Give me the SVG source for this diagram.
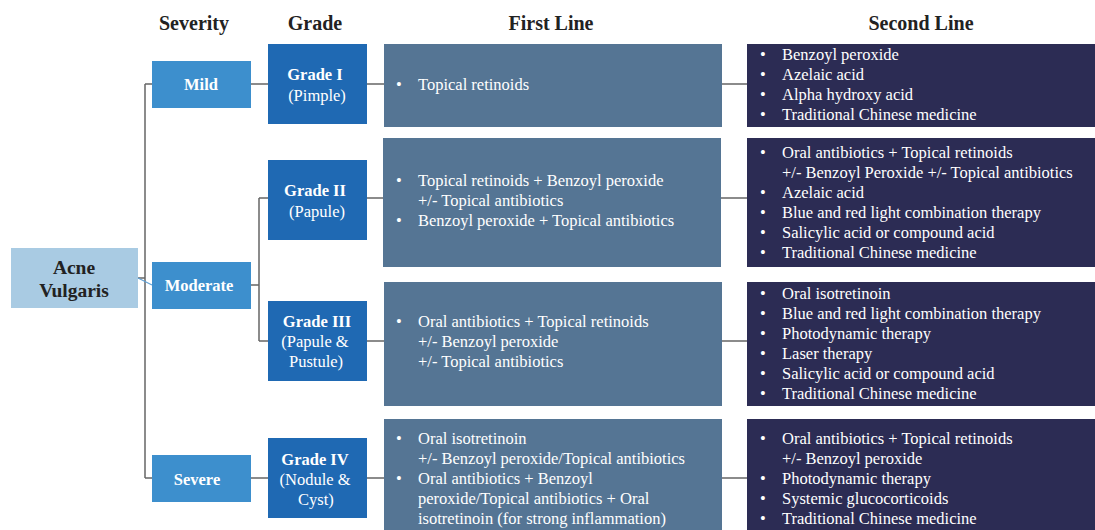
<svg xmlns="http://www.w3.org/2000/svg" width="1095" height="530" viewBox="0 0 1095 530" font-family="Liberation Serif, Times New Roman, serif">
<style>
svg text{font-family:'Liberation Serif','Times New Roman',serif;}
.hdr{font-size:20px;font-weight:bold;fill:#222;text-anchor:middle;}
.sev{fill:#3d8fcd;}
.grd{fill:#1f69b3;}
.fl{fill:#557594;}
.sl{fill:#2c2c54;}
.acne{fill:#a9cbe3;}
.wb{font-size:16.5px;font-weight:bold;fill:#fff;text-anchor:middle;}
.wt{font-size:16.5px;fill:#fff;text-anchor:middle;}
.li{font-size:16.5px;fill:#fff;}
.conn{stroke:#666;stroke-width:1.5;fill:none;}
</style>
<g id="headers">
<text class="hdr" x="194" y="30">Severity</text>
<text class="hdr" x="315" y="30">Grade</text>
<text class="hdr" x="551" y="30">First Line</text>
<text class="hdr" x="921" y="30">Second Line</text>
</g>
<g id="connectors">
<path class="conn" d="M145 84 V478 M145 84 H152 M145 478 H152 M138 278 H145"/>
<path d="M138 278 L152 285" stroke="#5fa0d6" stroke-width="1.2" fill="none"/>
<path class="conn" d="M251 84 H268 M367 84 H384 M722 84 H747"/>
<path class="conn" d="M251 285 H259 M259 198 V341 M259 198 H268 M259 341 H268"/>
<path class="conn" d="M367 198 H383 M721 198 H747 M367 341 H384 M722 341 H747"/>
<path class="conn" d="M251 478 H268 M367 478 H384 M722 478 H747"/>
</g>
<g id="acne">
<rect class="acne" x="11" y="248" width="127" height="60"/>
<text x="74" y="274" style="font-size:19.5px;font-weight:bold;fill:#222;text-anchor:middle">Acne</text>
<text x="74" y="297" style="font-size:19.5px;font-weight:bold;fill:#222;text-anchor:middle">Vulgaris</text>
</g>
<g id="mild">
<rect class="sev" x="152" y="61" width="99" height="47"/>
<text class="wb" x="201" y="90">Mild</text>
</g>
<g id="moderate">
<rect class="sev" x="152" y="262" width="99" height="47"/>
<text class="wb" x="199" y="291">Moderate</text>
</g>
<g id="severe">
<rect class="sev" x="152" y="455" width="99" height="47"/>
<text class="wb" x="197" y="485">Severe</text>
</g>
<g id="grade1">
<rect class="grd" x="268" y="44" width="99" height="80"/>
<text class="wb" x="315" y="80">Grade I</text>
<text class="wt" x="317" y="101">(Pimple)</text>
</g>
<g id="grade2">
<rect class="grd" x="268" y="160" width="99" height="80"/>
<text class="wb" x="315" y="196">Grade II</text>
<text class="wt" x="317" y="217">(Papule)</text>
</g>
<g id="grade3">
<rect class="grd" x="268" y="301" width="99" height="80"/>
<text class="wb" x="317" y="327">Grade III</text>
<text class="wt" x="315" y="347">(Papule &amp;</text>
<text class="wt" x="316" y="367">Pustule)</text>
</g>
<g id="grade4">
<rect class="grd" x="268" y="438" width="99" height="80"/>
<text class="wb" x="315" y="465">Grade IV</text>
<text class="wt" x="315" y="485">(Nodule &amp;</text>
<text class="wt" x="316" y="505">Cyst)</text>
</g>
<g id="first1">
<rect class="fl" x="384" y="44" width="338" height="83"/>
<text class="li" x="396" y="90">•</text>
<text class="li" x="418" y="90">Topical retinoids</text>
</g>
<g id="first2">
<rect class="fl" x="383" y="138" width="338" height="129"/>
<text class="li" x="396" y="186">•</text>
<text class="li" x="418" y="186">Topical retinoids + Benzoyl peroxide</text>
<text class="li" x="418" y="206">+/- Topical antibiotics</text>
<text class="li" x="396" y="226">•</text>
<text class="li" x="418" y="226">Benzoyl peroxide + Topical antibiotics</text>
</g>
<g id="first3">
<rect class="fl" x="384" y="282" width="338" height="124"/>
<text class="li" x="396" y="327">•</text>
<text class="li" x="418" y="327">Oral antibiotics + Topical retinoids</text>
<text class="li" x="418" y="347">+/- Benzoyl peroxide</text>
<text class="li" x="418" y="367">+/- Topical antibiotics</text>
</g>
<g id="first4">
<rect class="fl" x="384" y="419" width="338" height="111"/>
<text class="li" x="396" y="444">•</text>
<text class="li" x="418" y="444">Oral isotretinoin</text>
<text class="li" x="418" y="464">+/- Benzoyl peroxide/Topical antibiotics</text>
<text class="li" x="396" y="484">•</text>
<text class="li" x="418" y="484">Oral antibiotics + Benzoyl</text>
<text class="li" x="418" y="504">peroxide/Topical antibiotics + Oral</text>
<text class="li" x="418" y="524">isotretinoin (for strong inflammation)</text>
</g>
<g id="second1">
<rect class="sl" x="747" y="44" width="348" height="83"/>
<text class="li" x="760" y="60">•</text><text class="li" x="782" y="60">Benzoyl peroxide</text>
<text class="li" x="760" y="80">•</text><text class="li" x="782" y="80">Azelaic acid</text>
<text class="li" x="760" y="100">•</text><text class="li" x="782" y="100">Alpha hydroxy acid</text>
<text class="li" x="760" y="120">•</text><text class="li" x="782" y="120">Traditional Chinese medicine</text>
</g>
<g id="second2">
<rect class="sl" x="747" y="138" width="348" height="129"/>
<text class="li" x="760" y="158">•</text><text class="li" x="782" y="158">Oral antibiotics + Topical retinoids</text>
<text class="li" x="782" y="178">+/- Benzoyl Peroxide +/- Topical antibiotics</text>
<text class="li" x="760" y="198">•</text><text class="li" x="782" y="198">Azelaic acid</text>
<text class="li" x="760" y="218">•</text><text class="li" x="782" y="218">Blue and red light combination therapy</text>
<text class="li" x="760" y="238">•</text><text class="li" x="782" y="238">Salicylic acid or compound acid</text>
<text class="li" x="760" y="258">•</text><text class="li" x="782" y="258">Traditional Chinese medicine</text>
</g>
<g id="second3">
<rect class="sl" x="747" y="282" width="348" height="124"/>
<text class="li" x="760" y="299">•</text><text class="li" x="782" y="299">Oral isotretinoin</text>
<text class="li" x="760" y="319">•</text><text class="li" x="782" y="319">Blue and red light combination therapy</text>
<text class="li" x="760" y="339">•</text><text class="li" x="782" y="339">Photodynamic therapy</text>
<text class="li" x="760" y="359">•</text><text class="li" x="782" y="359">Laser therapy</text>
<text class="li" x="760" y="379">•</text><text class="li" x="782" y="379">Salicylic acid or compound acid</text>
<text class="li" x="760" y="399">•</text><text class="li" x="782" y="399">Traditional Chinese medicine</text>
</g>
<g id="second4">
<rect class="sl" x="747" y="419" width="348" height="111"/>
<text class="li" x="760" y="444">•</text><text class="li" x="782" y="444">Oral antibiotics + Topical retinoids</text>
<text class="li" x="782" y="464">+/- Benzoyl peroxide</text>
<text class="li" x="760" y="484">•</text><text class="li" x="782" y="484">Photodynamic therapy</text>
<text class="li" x="760" y="504">•</text><text class="li" x="782" y="504">Systemic glucocorticoids</text>
<text class="li" x="760" y="524">•</text><text class="li" x="782" y="524">Traditional Chinese medicine</text>
</g>
</svg>
